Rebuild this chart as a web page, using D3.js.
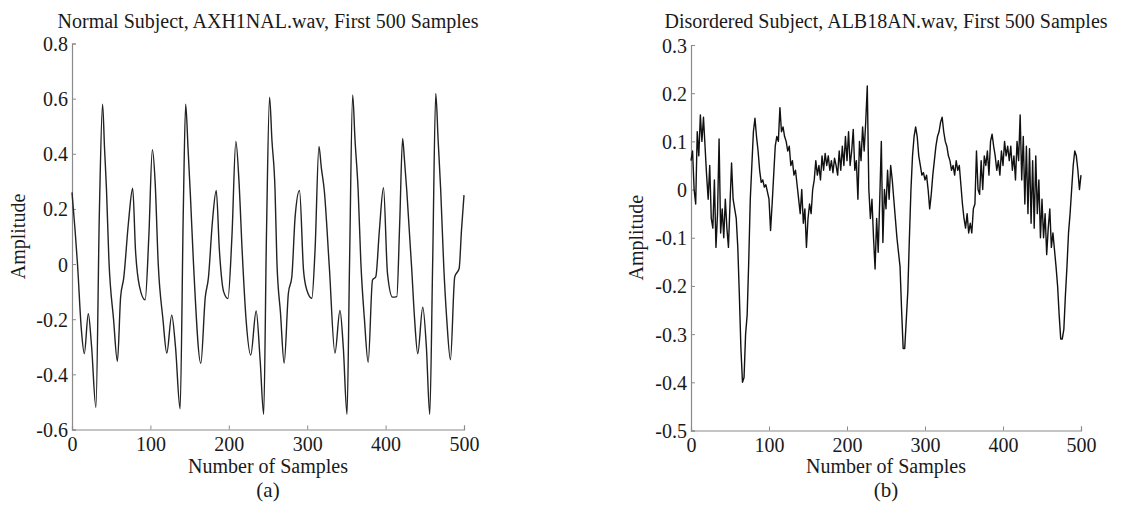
<!DOCTYPE html>
<html>
<head>
<meta charset="utf-8">
<script src="https://cdn.jsdelivr.net/npm/d3@7"></script>
<style>
  html, body { margin: 0; padding: 0; background: #fff; }
  svg { display: block; }
  text { font-family: "Liberation Serif", "Times New Roman", serif; fill: #1a1a1a; }
</style>
</head>
<body>
<svg id="chart" width="1124" height="509"></svg>
<script>
// ---------------- data ----------------
const leftTitle = "Normal Subject, AXH1NAL.wav, First 500 Samples";
const rightTitle = "Disordered Subject, ALB18AN.wav, First 500 Samples";
const xLabel = "Number of Samples";
const yLabel = "Amplitude";
const panelLabels = ["(a)", "(b)"];
const xTicks = [0, 100, 200, 300, 400, 500];
const leftYTicks = [-0.6, -0.4, -0.2, 0, 0.2, 0.4, 0.6, 0.8];
const rightYTicks = [-0.5, -0.4, -0.3, -0.2, -0.1, 0, 0.1, 0.2, 0.3];

// Normal subject: sample index / amplitude
const leftSamples = [0,4,7,12,15.7,20.8,25,30.5,35,39,41.5,44,47,53,57.9,62,66,72,77.4,81,86,93.3,98,102.5,106,110,116,120.9,127.2,132,137.9,142,145,148,151,155,164.3,170,174,179,184,188,193.4,198.9,204,209,213,217,222,228,234.9,240,244.5,248,252,255,259,261.3,266,270.6,276,280.4,284.6,290.2,295.3,299.5,305.9,310,315,318,321.8,328.2,335.4,341.8,346,350.8,354,358,361,365,368.4,373,377.8,383.3,387.5,392,397.3,402.4,408.8,414.3,418,421.7,424,427,433.4,437,441,447.4,452,456.3,460,464,467,470.3,474.2,478,482.7,488.2,493.8,496.8,500];
const leftValues = [0.26,0.12,0.0,-0.24,-0.325,-0.18,-0.3,-0.52,0.2,0.58,0.42,0.27,0.02,-0.2,-0.353,-0.12,-0.05,0.15,0.275,0.05,-0.08,-0.13,0.1,0.415,0.3,0.0,-0.2,-0.323,-0.185,-0.3,-0.525,0.2,0.58,0.42,0.25,0.0,-0.36,-0.12,-0.05,0.15,0.267,0.05,-0.1,-0.125,0.1,0.445,0.3,0.05,-0.2,-0.33,-0.17,-0.35,-0.545,0.1,0.605,0.45,0.267,0.014,-0.18,-0.359,-0.106,-0.046,0.171,0.267,-0.022,-0.094,-0.124,0.05,0.427,0.35,0.267,-0.01,-0.323,-0.168,-0.3,-0.545,0.0,0.613,0.45,0.267,0.008,-0.2,-0.356,-0.058,-0.046,0.12,0.277,-0.034,-0.12,-0.118,0.15,0.456,0.38,0.267,-0.022,-0.2,-0.325,-0.156,-0.3,-0.545,0.0,0.619,0.45,0.267,-0.01,-0.2,-0.347,-0.046,-0.016,0.123,0.25];

// Disordered subject: amplitude every 2nd sample
const rightStep = 2;
const rightValues = [
  0.06,0.08,0.0,-0.03,0.12,0.07,0.155,0.10,0.15,0.09,0.03,
  -0.02,0.05,-0.06,-0.08,0.02,-0.12,-0.05,0.105,-0.09,-0.04,
  -0.10,-0.02,-0.08,-0.12,-0.03,0.055,-0.02,-0.04,
  -0.06,-0.12,-0.22,-0.33,-0.40,-0.39,-0.30,-0.26,-0.15,-0.02,
  0.05,0.12,0.148,0.11,0.08,0.04,0.015,0.02,0.005,0.01,-0.005,-0.02,-0.085,-0.03,
  0.03,0.09,0.11,0.10,0.17,0.12,0.13,0.11,0.10,0.08,0.09,0.05,0.06,0.03,0.04,0.01,-0.02,-0.05,0.0,-0.07,-0.04,-0.12,-0.06,-0.03,-0.05,0.0,
  0.02,0.06,0.03,0.05,0.02,0.07,0.04,0.075,0.05,0.07,0.04,0.06,0.035,0.065,0.05,0.03,0.08,0.04,0.09,0.05,0.11,0.06,0.12,0.05,0.08,0.125,0.04,0.06,-0.02,0.10,0.06,0.13,0.08,0.14,0.215,0.0,
  -0.06,-0.02,-0.10,-0.165,-0.06,-0.13,-0.02,0.10,-0.11,0.0,-0.04,0.04,-0.02,0.05,0.02,-0.02,-0.06,-0.10,-0.13,-0.16,-0.25,-0.33,-0.33,-0.27,-0.21,-0.10,0.0,0.07,0.11,0.13,0.11,0.07,0.05,0.03,0.035,0.02,0.03,0.0,-0.04,-0.01,0.03,0.06,0.09,0.11,0.12,0.14,0.15,0.12,0.10,0.09,0.07,0.06,0.04,0.05,0.03,0.06,0.04,0.05,0.01,-0.03,-0.06,-0.08,-0.05,-0.09,-0.07,-0.09,-0.04,-0.03,0.08,0.0,-0.01,0.06,0.0,0.07,0.05,0.08,0.03,0.10,0.115,0.09,0.07,0.04,0.06,0.03,0.08,0.05,0.10,0.07,0.09,0.06,0.09,0.04,0.07,0.02,0.10,0.06,0.155,0.02,0.11,-0.03,0.09,-0.05,0.085,-0.07,0.06,-0.08,0.07,-0.05,0.02,-0.10,-0.02,-0.10,-0.05,-0.135,-0.08,-0.04,-0.12,-0.09,-0.125,-0.16,-0.20,-0.26,-0.31,-0.31,-0.29,-0.22,-0.16,-0.09,-0.05,0.0,0.05,0.08,0.07,0.04,0.0,0.03
];

// ---------------- drawing ----------------
const svg = d3.select("#chart");
const axisColor = "#8a8a8a";
// MATLAB-style labels with an ASCII hyphen for negatives
const fmt = d => (d === 0 ? "0" : (d < 0 ? "-" : "") + Math.abs(d).toFixed(1));

function panel(cfg) {
  const x = d3.scaleLinear().domain([0, 500]).range([cfg.left, cfg.right]);
  const y = d3.scaleLinear().domain(cfg.yDomain).range([cfg.bottom, cfg.top]);
  const g = svg.append("g");

  // axes (ticks point inward, MATLAB style)
  const xa = g.append("g").attr("transform", `translate(0,${cfg.bottom})`)
    .call(d3.axisBottom(x).tickValues(xTicks).tickSize(-4).tickPadding(8).tickFormat(d => String(d)));
  const ya = g.append("g").attr("transform", `translate(${cfg.left},0)`)
    .call(d3.axisLeft(y).tickValues(cfg.yTicks).tickSize(-4).tickPadding(4).tickFormat(fmt));
  [xa, ya].forEach(a => {
    a.select(".domain").attr("stroke", axisColor).attr("stroke-width", 1.2);
    a.selectAll(".tick line").attr("stroke", axisColor).attr("stroke-width", 1);
    a.selectAll(".tick text").attr("font-size", 20).attr("fill", "#1a1a1a")
      .style("font-family", '"Liberation Serif", serif');
  });
  xa.selectAll(".tick text").attr("dy", "0.72em").attr("y", 7);
  ya.selectAll(".tick text").attr("dy", "0.35em");

  // signal
  const line = d3.line().x(d => x(d[0])).y(d => y(d[1])).curve(cfg.curve);
  g.append("path").datum(cfg.data)
    .attr("fill", "none").attr("stroke", cfg.stroke).attr("stroke-width", cfg.width)
    .attr("stroke-linejoin", "round").attr("d", line);

  const cx = (cfg.left + cfg.right) / 2;
  g.append("text").attr("x", cx).attr("y", 28).attr("text-anchor", "middle")
    .attr("font-size", 20).text(cfg.title);
  g.append("text").attr("x", cx).attr("y", 473).attr("text-anchor", "middle")
    .attr("font-size", 20).text(xLabel);
  g.append("text").attr("x", cx).attr("y", 497).attr("text-anchor", "middle")
    .attr("font-size", 21).text(cfg.panel);
  g.append("text")
    .attr("transform", `translate(${cfg.yLabelX},${(cfg.top + cfg.bottom) / 2}) rotate(-90)`)
    .attr("text-anchor", "middle").attr("font-size", 20).text(yLabel);
}

const leftData = leftSamples.map((s, i) => [s, leftValues[i]]);
const rightData = rightValues.map((v, i) => [i * rightStep, v]);

panel({
  left: 72, right: 464, top: 43.5, bottom: 429.5,
  yDomain: [-0.6, 0.8], yTicks: leftYTicks, data: leftData,
  curve: d3.curveMonotoneX, stroke: "#222", width: 1.4,
  title: leftTitle, panel: panelLabels[0], yLabelX: 25
});
panel({
  left: 691, right: 1081, top: 45, bottom: 430.5,
  yDomain: [-0.5, 0.3], yTicks: rightYTicks, data: rightData,
  curve: d3.curveLinear, stroke: "#111", width: 1.4,
  title: rightTitle, panel: panelLabels[1], yLabelX: 643
});
</script>
</body>
</html>
